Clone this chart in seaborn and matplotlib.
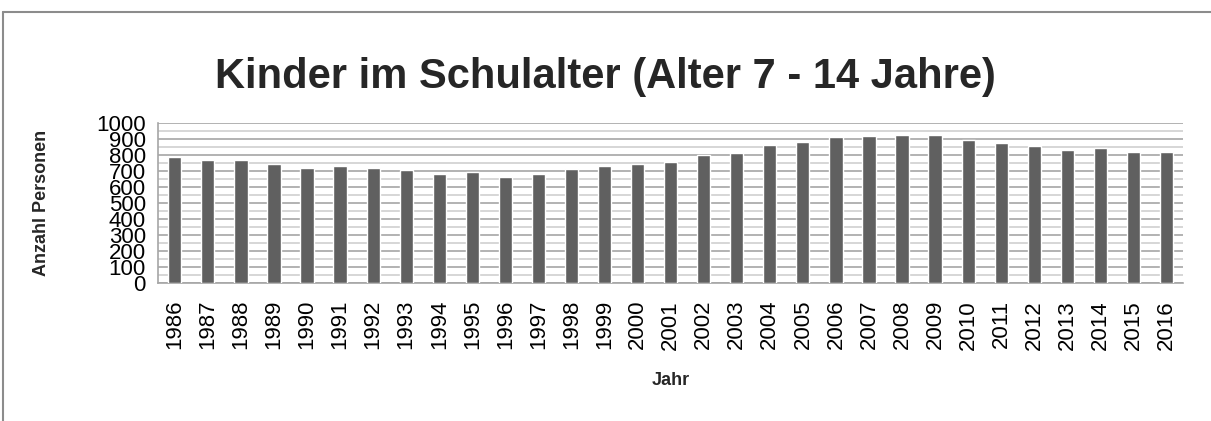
import numpy as np
import pandas as pd
import matplotlib
matplotlib.use("Agg")
import matplotlib.pyplot as plt
from matplotlib.lines import Line2D
from matplotlib.ticker import MultipleLocator
import seaborn as sns

# ---------------------------------------------------------------------------
# Data
# ---------------------------------------------------------------------------
YEARS = [str(y) for y in range(1986, 2017)]
PERSONS = [787, 771, 771, 746, 723, 735, 723, 710, 685, 698,
           666, 683, 712, 731, 744, 756, 800, 814, 862, 885,
           914, 920, 926, 926, 896, 879, 856, 831, 848, 823, 819]
Y_TICKS = list(range(0, 1001, 100))

BAR_COLOUR = "#606060"
GRID_MAJOR = "#a6a6a6"
GRID_MINOR = "#d0d0d0"

sns.set_style("white")
plt.rcParams["font.family"] = ["Liberation Sans", "DejaVu Sans"]

df = pd.DataFrame({"Jahr": YEARS, "Anzahl": PERSONS})

fig = plt.figure(figsize=(12.11, 4.21), dpi=100)
ax = fig.add_axes([0.1307, 0.327, 0.9769 - 0.1307, 0.7071 - 0.327])

sns.barplot(data=df, x="Jahr", y="Anzahl", color=BAR_COLOUR, saturation=1,
            width=0.4, ax=ax, zorder=3)

ax.set_xlim(-0.5, len(YEARS) - 0.5)
ax.set_ylim(0, 1000)
ax.set_yticks(Y_TICKS)
ax.yaxis.set_minor_locator(MultipleLocator(50))
ax.grid(axis="y", which="major", color=GRID_MAJOR, lw=1.2, zorder=0)
ax.grid(axis="y", which="minor", color=GRID_MINOR, lw=1.2, zorder=0)
ax.set_axisbelow(True)

for side in ("top", "right"):
    ax.spines[side].set_visible(False)
for side in ("left", "bottom"):
    ax.spines[side].set_color(GRID_MAJOR)
    ax.spines[side].set_linewidth(1.2)

ax.tick_params(axis="both", which="both", length=0, labelsize=16, colors="black")
ax.tick_params(axis="y", pad=9)
ax.tick_params(axis="x", pad=12)
plt.setp(ax.get_xticklabels(), rotation=90)

ax.set_xlabel("Jahr", fontsize=13, fontweight="bold", labelpad=16)
ax.set_ylabel("Anzahl Personen", fontsize=13, fontweight="bold", labelpad=33)

fig.text(0.5, 0.818, "Kinder im Schulalter (Alter 7 - 14 Jahre)",
         ha="center", va="center", fontsize=30, fontweight="bold")

# outer chart frame (only left and top edge visible in the crop)
fig.add_artist(Line2D([0.0025, 0.0025], [0, 0.972], color="#8c8c8c", lw=1.5,
                      transform=fig.transFigure))
fig.add_artist(Line2D([0.0025, 1], [0.972, 0.972], color="#8c8c8c", lw=1.5,
                      transform=fig.transFigure))

fig.savefig("out.png", dpi=100)
plt.close(fig)
